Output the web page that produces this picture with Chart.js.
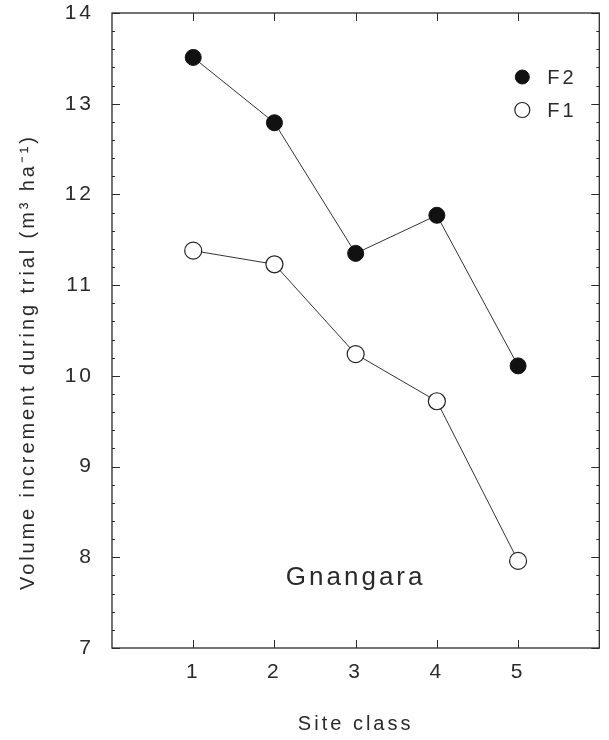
<!DOCTYPE html>
<html>
<head>
<meta charset="utf-8">
<script src="https://cdn.jsdelivr.net/npm/chart.js@4"></script>
<style>
  body { margin: 0; background: #fff; }
  canvas { display: block; }
</style>
</head>
<body>
<canvas id="myChart" width="609" height="740"></canvas>
<script>
// data
const siteClass = [1, 2, 3, 4, 5];
const f2Values = [13.51, 12.79, 11.35, 11.77, 10.11];
const f1Values = [11.38, 11.23, 10.24, 9.72, 7.96];
const xTicks = [1, 2, 3, 4, 5];
const yTicks = [7, 8, 9, 10, 11, 12, 13, 14];
const seriesNames = ['F2', 'F1'];
const yTitle = 'Volume increment during trial (m\u00B3 ha\u207B\u00B9)';

const ink = '#2a2a2a';
const fontFamily = "'Liberation Sans', Arial, sans-serif";

// box + inward ticks on all four sides, legend, y title and site label
const framePlugin = {
    id: 'frame',
    beforeDraw: function (chart) {
        chart.ctx.letterSpacing = '3px';
    },
    afterDatasetsDraw: function (chart) {
        const ctx = chart.ctx;
        const a = chart.chartArea;
        const xs = chart.scales.x;
        const ys = chart.scales.y;
        ctx.save();
        ctx.strokeStyle = ink;
        ctx.lineWidth = 1.3;
        ctx.strokeRect(a.left, a.top, a.right - a.left, a.bottom - a.top);

        ctx.lineWidth = 1;
        ctx.beginPath();
        // x ticks (bottom and top)
        xTicks.forEach(function (v) {
            const px = Math.round(xs.getPixelForValue(v)) + 0.5;
            ctx.moveTo(px, a.bottom); ctx.lineTo(px, a.bottom - 8);
            ctx.moveTo(px, a.top); ctx.lineTo(px, a.top + 8);
        });
        // y ticks, major and minor (left and right)
        for (let v = yTicks[0]; v <= yTicks[yTicks.length - 1] + 0.001; v += 0.2) {
            const major = Math.abs(v - Math.round(v)) < 0.01;
            const len = major ? 8 : 3;
            const py = Math.round(ys.getPixelForValue(v)) + 0.5;
            ctx.moveTo(a.left, py); ctx.lineTo(a.left + len, py);
            ctx.moveTo(a.right, py); ctx.lineTo(a.right - len, py);
        }
        ctx.stroke();

        // legend inside the plot
        ctx.letterSpacing = '3px';
        ctx.font = '20px ' + fontFamily;
        ctx.textBaseline = 'middle';
        ctx.textAlign = 'left';
        chart.data.datasets.forEach(function (ds, i) {
            const lx = a.right - 77;
            const ly = a.top + 64 + i * 33;
            ctx.beginPath();
            ctx.arc(lx, ly, ds.pointRadius - 1, 0, Math.PI * 2);
            ctx.fillStyle = ds.pointBackgroundColor;
            ctx.fill();
            ctx.lineWidth = ds.pointBorderWidth;
            ctx.strokeStyle = ds.pointBorderColor;
            ctx.stroke();
            ctx.fillStyle = ink;
            ctx.fillText(ds.label, lx + 25, ly + 1);
        });

        // site name
        ctx.font = '26px ' + fontFamily;
        ctx.textAlign = 'center';
        ctx.fillText('Gnangara', (a.left + a.right) / 2, a.bottom - 70);

        // y axis title, anchored at its start (bottom end)
        ctx.font = '20px ' + fontFamily;
        ctx.letterSpacing = '2.9px';
        ctx.textAlign = 'left';
        ctx.translate(28, a.bottom - 58);
        ctx.rotate(-Math.PI / 2);
        ctx.fillText(yTitle, 0, 0);
        ctx.restore();
    }
};

const ctx = document.getElementById('myChart').getContext('2d');

const myChart = new Chart(ctx, {
    type: 'line',
    data: {
        datasets: [{
            label: seriesNames[0],
            data: siteClass.map(function (s, i) { return { x: s, y: f2Values[i] }; }),
            borderColor: '#333',
            borderWidth: 1,
            pointRadius: 8,
            pointBackgroundColor: '#111',
            pointBorderColor: '#111',
            pointBorderWidth: 1
        }, {
            label: seriesNames[1],
            data: siteClass.map(function (s, i) { return { x: s, y: f1Values[i] }; }),
            borderColor: '#333',
            borderWidth: 1,
            pointRadius: 8.5,
            pointBackgroundColor: '#fff',
            pointBorderColor: '#222',
            pointBorderWidth: 1.2
        }]
    },
    options: {
        responsive: false,
        animation: false,
        layout: {
            padding: { top: 13, right: 9, left: 0, bottom: 0 }
        },
        plugins: {
            legend: { display: false },
            tooltip: { enabled: false }
        },
        scales: {
            x: {
                type: 'linear',
                min: 0,
                max: 6,
                grid: { display: false, drawTicks: false },
                border: { display: false },
                afterBuildTicks: function (scale) {
                    scale.ticks = xTicks.map(function (v) { return { value: v }; });
                },
                afterFit: function (scale) {
                    scale.height = 92;
                    scale.paddingLeft = 0;
                    scale.paddingRight = 0;
                },
                ticks: {
                    color: ink,
                    padding: 12,
                    maxRotation: 0,
                    font: { family: fontFamily, size: 21 }
                },
                title: {
                    display: true,
                    text: 'Site class',
                    color: ink,
                    font: { family: fontFamily, size: 20 },
                    padding: { top: 4, bottom: 4 }
                }
            },
            y: {
                min: 7,
                max: 14,
                grid: { display: false, drawTicks: false },
                border: { display: false },
                afterBuildTicks: function (scale) {
                    scale.ticks = yTicks.map(function (v) { return { value: v }; });
                },
                afterFit: function (scale) {
                    scale.width = 112;
                    scale.paddingTop = 0;
                    scale.paddingBottom = 0;
                },
                ticks: {
                    color: ink,
                    padding: 18,
                    font: { family: fontFamily, size: 21 }
                }
            }
        }
    },
    plugins: [framePlugin]
});
</script>
</body>
</html>
